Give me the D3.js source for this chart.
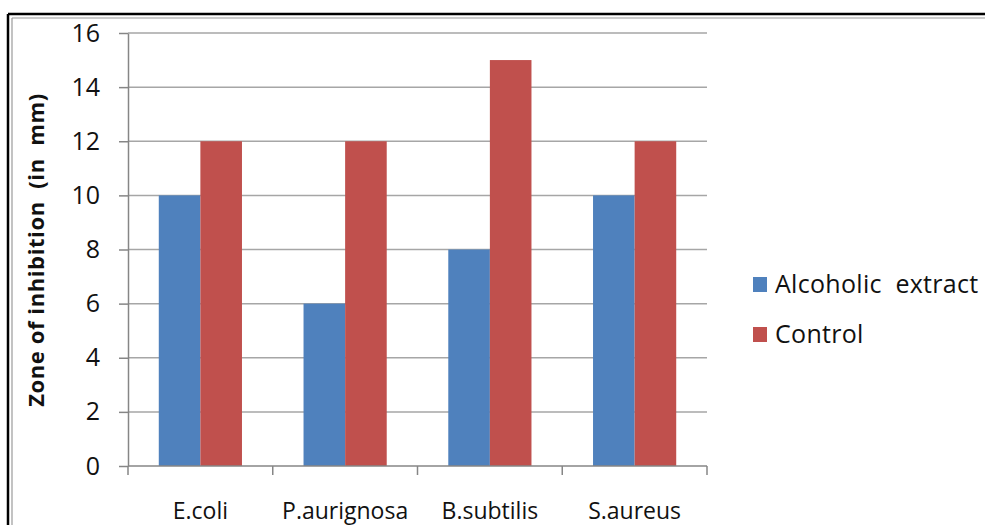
<!DOCTYPE html>
<html>
<head>
<meta charset="utf-8">
<script src="https://cdn.jsdelivr.net/npm/d3@7"></script>
<style>
  html, body { margin: 0; padding: 0; background: #fff; }
  svg { display: block; }
  text { font-family: "Open Sans", "Noto Sans", sans-serif; fill: #111; }
</style>
</head>
<body>
<svg id="chart" width="985" height="525"></svg>
<script>
// Zone of inhibition per organism
const categories = ["E.coli", "P.aurignosa", "B.subtilis", "S.aureus"];
const seriesNames = ["Alcoholic  extract", "Control"];
const alcoholicExtract = [10, 6, 8, 10];
const control = [12, 12, 15, 12];
const yTicks = [0, 2, 4, 6, 8, 10, 12, 14, 16];
const colors = ["#4F81BD", "#C0504D"];

const seriesValues = [alcoholicExtract, control];
const rows = categories.map((c, i) => ({
  category: c,
  values: seriesNames.map((s, j) => ({ series: s, value: seriesValues[j][i], idx: j }))
}));

const svg = d3.select("#chart");

// Frame: heavy black outer rule with a thin grey inner rule (top and left only)
svg.append("line").attr("x1", 8).attr("x2", 985).attr("y1", 14).attr("y2", 14)
  .attr("stroke", "#000").attr("stroke-width", 2.5);
svg.append("line").attr("x1", 8).attr("x2", 8).attr("y1", 14).attr("y2", 525)
  .attr("stroke", "#000").attr("stroke-width", 2.5);
svg.append("line").attr("x1", 12).attr("x2", 985).attr("y1", 18).attr("y2", 18)
  .attr("stroke", "#9a9a9a").attr("stroke-width", 1.2);
svg.append("line").attr("x1", 12).attr("x2", 12).attr("y1", 18).attr("y2", 525)
  .attr("stroke", "#9a9a9a").attr("stroke-width", 1.2);

const plot = { left: 128, right: 707, top: 33, bottom: 466 };

const x = d3.scaleBand().domain(categories).range([plot.left, plot.right]).padding(0);
const xSub = d3.scaleBand().domain(seriesNames).range([0, x.bandwidth()])
  .paddingInner(0).paddingOuter(0.74);
const y = d3.scaleLinear().domain([0, 16]).range([plot.bottom, plot.top]);

// Horizontal gridlines
svg.append("g").selectAll("line").data(yTicks.filter(d => d > 0)).join("line")
  .attr("x1", plot.left).attr("x2", plot.right)
  .attr("y1", d => y(d)).attr("y2", d => y(d))
  .attr("stroke", "#a6a6a6").attr("stroke-width", 1.5);

// Bars
const groups = svg.append("g").selectAll("g").data(rows).join("g")
  .attr("transform", d => `translate(${x(d.category)},0)`);
groups.selectAll("rect").data(d => d.values).join("rect")
  .attr("x", d => xSub(d.series))
  .attr("width", xSub.bandwidth())
  .attr("y", d => y(d.value))
  .attr("height", d => y(0) - y(d.value))
  .attr("fill", d => colors[d.idx]);

// Y axis
const yAxis = d3.axisLeft(y).tickValues(yTicks).tickSize(9).tickPadding(19).tickSizeOuter(0);
const gy = svg.append("g").attr("transform", `translate(${plot.left},0)`).call(yAxis);
gy.select(".domain").attr("stroke", "#868686").attr("stroke-width", 1.5);
gy.selectAll(".tick line").attr("stroke", "#868686").attr("stroke-width", 1.5);
gy.selectAll(".tick text").attr("font-size", 25).attr("fill", "#111")
  .attr("font-family", "'Open Sans', sans-serif");

// X axis with boundary ticks between categories
const bounds = categories.map(c => x(c)).concat([plot.right]);
const gx = svg.append("g");
gx.append("line").attr("x1", plot.left).attr("x2", plot.right)
  .attr("y1", y(0)).attr("y2", y(0)).attr("stroke", "#868686").attr("stroke-width", 1.5);
gx.selectAll("line.tk").data(bounds).join("line").attr("class", "tk")
  .attr("x1", d => d).attr("x2", d => d)
  .attr("y1", y(0)).attr("y2", y(0) + 9)
  .attr("stroke", "#868686").attr("stroke-width", 1.5);
gx.selectAll("text").data(categories).join("text")
  .attr("x", d => x(d) + x.bandwidth() / 2)
  .attr("y", 519)
  .attr("text-anchor", "middle")
  .attr("font-size", 23)
  .text(d => d);

// Y axis title
svg.append("text")
  .attr("transform", "translate(44,250) rotate(-90)")
  .attr("text-anchor", "middle")
  .attr("font-size", 22)
  .attr("font-weight", "bold")
  .attr("letter-spacing", 0.6)
  .attr("xml:space", "preserve")
  .style("white-space", "pre")
  .text("Zone of inhibition  (in  mm)");

// Legend
const legend = svg.append("g").selectAll("g").data(seriesNames).join("g")
  .attr("transform", (d, i) => `translate(753,${277 + i * 50})`);
legend.append("rect").attr("width", 14).attr("height", 15)
  .attr("fill", (d, i) => colors[i]);
legend.append("text").attr("x", 22).attr("y", 16)
  .attr("font-size", 25)
  .attr("letter-spacing", 0.3)
  .style("white-space", "pre")
  .attr("xml:space", "preserve")
  .text(d => d);
</script>
</body>
</html>
